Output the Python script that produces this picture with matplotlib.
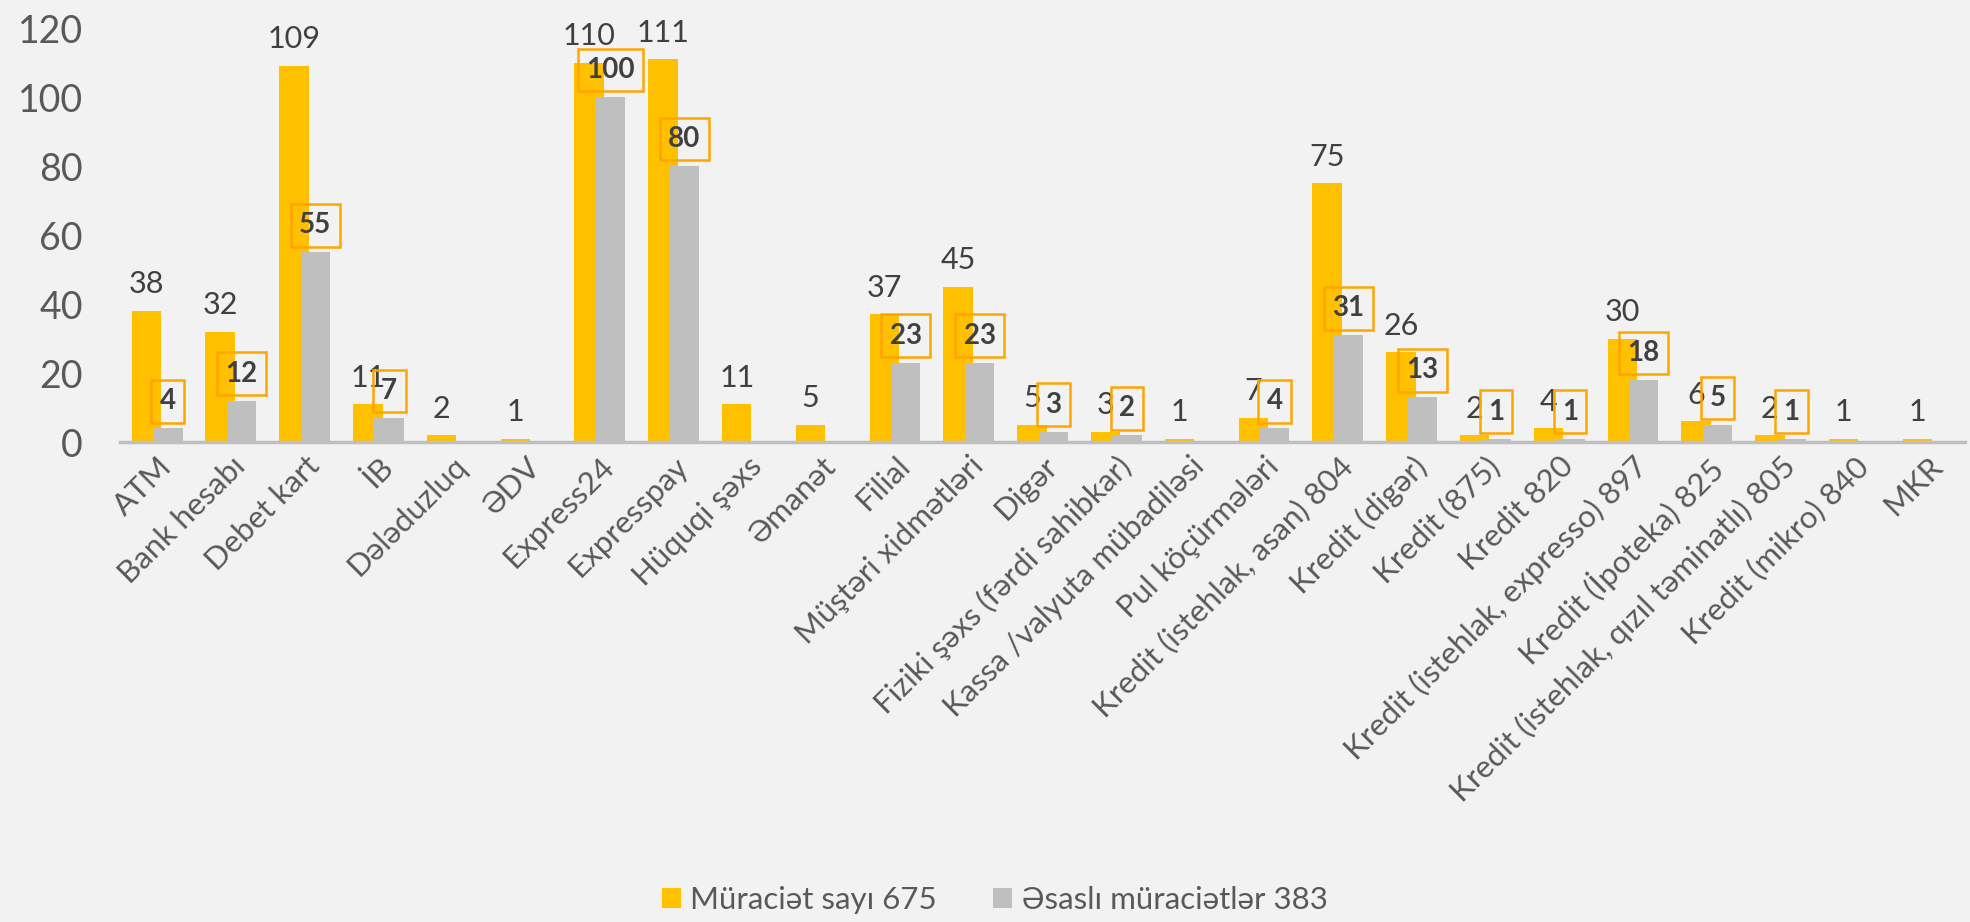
import matplotlib.pyplot as plt
import numpy as np

plt.rcParams['font.family'] = ['Lato', 'DejaVu Sans']

categories = ['ATM', 'Bank hesabı', 'Debet kart', 'İB', 'Dələduzluq', 'ƏDV',
              'Express24', 'Expresspay', 'Hüquqi şəxs', 'Əmanət', 'Filial',
              'Müştəri xidmətləri', 'Digər', 'Fiziki şəxs (fərdi sahibkar)',
              'Kassa /valyuta mübadiləsi', 'Pul köçürmələri',
              'Kredit (istehlak, asan) 804', 'Kredit (digər)', 'Kredit (875)',
              'Kredit 820', 'Kredit (istehlak, expresso) 897',
              'Kredit (İpoteka) 825', 'Kredit (istehlak, qızıl təminatlı) 805',
              'Kredit (mikro) 840', 'MKR']
muraciet = [38, 32, 109, 11, 2, 1, 110, 111, 11, 5, 37, 45, 5, 3, 1, 7,
            75, 26, 2, 4, 30, 6, 2, 1, 1]
esasli = [4, 12, 55, 7, 0, 0, 100, 80, 0, 0, 23, 23, 3, 2, 0, 4,
          31, 13, 1, 1, 18, 5, 1, 0, 0]
series_names = ['Müraciət sayı 675', 'Əsaslı müraciətlər 383']

orange = '#FFC000'
grey = '#BFBFBF'
text_col = '#595959'
bg = '#F2F2F2'

fig = plt.figure(figsize=(19.7, 9.22), dpi=100, facecolor=bg)
ax = fig.add_axes([0.061, 0.5206, 0.9365, 0.449])
ax.set_facecolor(bg)

x = np.arange(len(categories))
w = 0.40
off = 0.145
b1 = ax.bar(x - off, muraciet, w, color=orange, label=series_names[0], zorder=2)
b2 = ax.bar(x + off, esasli, w, color=grey, label=series_names[1], zorder=3)

for xi, v in zip(x, muraciet):
    ax.annotate(str(v), (xi - off, v), xytext=(0, 9), textcoords='offset points',
                ha='center', va='bottom', fontsize=22, color='#404040',
                annotation_clip=False, zorder=4)
for xi, v in zip(x, esasli):
    if v == 0:
        continue
    ax.annotate(str(v), (xi + off, v), xytext=(0, 10), textcoords='offset points',
                ha='center', va='bottom', fontsize=20, fontweight='bold',
                color='#404040', annotation_clip=False, zorder=5,
                bbox=dict(boxstyle='square,pad=0.3', fc='none', ec='#FFA500', lw=1.8))

ax.set_xlim(-0.5, len(categories) - 0.5)
ax.set_ylim(0, 120)
ax.set_yticks(range(0, 121, 20))
ax.tick_params(axis='y', length=0, labelsize=27, labelcolor=text_col, pad=27)
ax.set_xticks(x)
ax.set_xticklabels(categories, rotation=45, ha='right', va='top',
                   rotation_mode='anchor', fontsize=22.5, color=text_col)
ax.tick_params(axis='x', length=0, pad=7)

for s in ['left', 'right', 'top']:
    ax.spines[s].set_visible(False)
ax.spines['bottom'].set_color(grey)
ax.spines['bottom'].set_linewidth(2.5)
ax.spines['bottom'].set_zorder(4)

fig.legend(handles=[b1, b2], loc='lower center', bbox_to_anchor=(0.505, -0.022),
           ncol=2, frameon=False, fontsize=22.5, labelcolor=text_col,
           handlelength=0.6, handleheight=0.6, handletextpad=0.3, columnspacing=1.8)

fig.savefig('out.png', dpi=100, facecolor=bg)
